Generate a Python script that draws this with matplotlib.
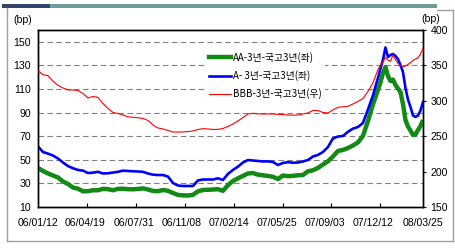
import matplotlib
matplotlib.use('Agg')
import matplotlib.pyplot as plt
import pandas as pd
from matplotlib.patches import Rectangle
from matplotlib.lines import Line2D

# ---------------- data ----------------
dates = pd.date_range('2006-01-12', '2007-12-22', periods=69).append(
    pd.date_range('2007-12-22', '2008-03-25', periods=19)[1:])

aa_spread = [43.1, 40.5, 38.4, 36.7, 35.0, 31.6, 29.5, 26.5, 25.5, 23.3,
             23.4, 24.2, 24.2, 25.4, 25.1, 24.2, 25.4, 25.5, 25.1, 25.0,
             25.3, 25.8, 24.8, 23.6, 23.4, 24.4, 23.7, 21.9, 20.2, 19.9,
             19.7, 20.3, 23.3, 24.4, 24.6, 24.8, 25.1, 23.7, 28.6, 32.0,
             34.3, 36.4, 38.4, 38.8, 37.4, 36.9, 36.3, 35.6, 33.7, 36.7,
             36.1, 36.4, 36.9, 37.1, 40.3, 41.1, 43.1, 46.0, 48.7, 52.8,
             57.5, 58.3, 60.0, 62.1, 64.7, 70.2, 82.9, 96.9, 109.2,
             115.5, 123.6, 128.6, 121.0, 116.8, 118.0, 113.4, 110.4, 107.5,
             97.3, 83.7, 78.2, 74.8, 71.0, 71.4, 75.3, 78.6, 83.7]

a_spread = [61.3, 56.6, 55.2, 53.6, 51.1, 47.7, 44.7, 42.8, 41.4, 40.8,
            38.8, 39.1, 39.8, 38.4, 38.6, 39.2, 39.8, 40.8, 40.5, 40.3,
            40.1, 39.8, 38.4, 37.4, 37.1, 37.1, 35.8, 30.3, 28.2, 27.8,
            27.8, 27.8, 32.5, 33.3, 33.3, 33.3, 34.3, 32.9, 38.0, 41.4,
            44.2, 47.7, 49.8, 49.4, 49.0, 48.6, 48.7, 48.1, 45.6, 47.3,
            48.0, 47.5, 47.7, 48.6, 49.8, 52.8, 54.1, 56.6, 60.8, 68.1,
            69.7, 70.2, 73.7, 76.4, 77.8, 81.2, 92.6, 104.5, 119.3,
            127.4, 134.6, 145.2, 137.1, 138.8, 139.7, 138.0, 135.4, 130.3,
            124.4, 110.8, 101.1, 94.7, 87.5, 86.3, 87.5, 91.8, 99.0]

bbb_spread = [342.5, 336.9, 335.5, 327.5, 321.9, 318.1, 315.3, 315.3, 314.5, 310.3,
              304.0, 306.1, 304.7, 296.2, 289.1, 283.5, 282.1, 279.9, 277.4, 276.7,
              276.1, 275.0, 272.2, 265.8, 261.6, 260.2, 258.1, 255.9, 255.9, 255.9,
              256.6, 257.3, 259.5, 260.6, 260.2, 259.5, 259.7, 260.9, 263.7, 267.2,
              271.5, 276.4, 281.4, 282.3, 281.6, 281.4, 281.4, 281.4, 280.9, 280.5,
              279.9, 279.7, 279.9, 281.4, 282.8, 286.3, 286.3, 283.5, 282.8, 287.0,
              290.8, 291.5, 292.2, 295.5, 299.0, 303.2, 313.1, 325.1, 344.2,
              349.9, 354.8, 361.2, 357.6, 355.8, 364.7, 358.3, 352.7, 349.9,
              348.4, 349.2, 351.3, 354.1, 356.9, 359.0, 360.5, 366.1, 373.9]

series_names = ['AA-3년-국고3년(좌)', 'A- 3년-국고3년(좌)', 'BBB-3년-국고3년(우)']
label_dates = ['2006-01-12', '2006-04-19', '2006-07-31', '2006-11-08', '2007-02-14',
               '2007-05-25', '2007-09-03', '2007-12-12', '2008-03-25']
tick_labels = ['06/01/12', '06/04/19', '06/07/31', '06/11/08', '07/02/14',
               '07/05/25', '07/09/03', '07/12/12', '08/03/25']
left_ticks = [10, 30, 50, 70, 90, 110, 130, 150]
right_ticks = [150, 200, 250, 300, 350, 400]

NUM = ['Liberation Sans', 'DejaVu Sans']
NSIZE = 7.6
KR = ['Noto Sans CJK KR', 'DejaVu Sans']

# ---------------- figure ----------------
W, H = 456, 249
fig = plt.figure(figsize=(W / 100, H / 100), dpi=100)
fig.patch.set_facecolor('white')

ax = fig.add_axes([38 / W, 42 / H, 385 / W, 177 / H])
ax2 = ax.twinx()

ax.plot(dates, aa_spread, color='#138a13', lw=3.2, solid_capstyle='butt', zorder=3)
ax.plot(dates, a_spread, color='#0000ff', lw=1.9, zorder=4)
ax2.plot(dates, bbb_spread, color='#ff0000', lw=0.8, zorder=3)

ax.set_xlim(pd.Timestamp('2006-01-12'), pd.Timestamp('2008-03-25'))
ax.set_ylim(10, 160)
ax2.set_ylim(150, 400)

ax.set_yticks(left_ticks)
ax.set_yticklabels([str(v) for v in left_ticks], family=NUM, fontsize=NSIZE)
ax2.set_yticks(right_ticks)
ax2.set_yticklabels([str(v) for v in right_ticks], family=NUM, fontsize=NSIZE)

ax.set_xticks(pd.to_datetime(label_dates))
ax.set_xticklabels(tick_labels, family=NUM, fontsize=NSIZE)
minor_pos = [pd.Timestamp('2006-01-12') + pd.Timedelta(days=102 * k) for k in range(1, 8)]
ax.set_xticks(minor_pos, minor=True)
ax.tick_params(axis='x', which='major', length=0, pad=8)
ax.tick_params(axis='x', which='minor', direction='in', length=3, width=0.8, color='black')
ax.tick_params(axis='y', length=0, pad=5)
ax2.tick_params(axis='y', length=2.5, width=0.8, pad=3, direction='out')

for g in [30, 50, 70, 90, 110, 130, 150]:
    ax.axhline(g, color='#808080', lw=0.8, ls=(0, (5, 3)), zorder=1)

for a in (ax, ax2):
    for s in a.spines.values():
        s.set_color('black')
        s.set_linewidth(1.0)

fig.text(13 / W, 1 - 20 / H, '(bp)', family=NUM, fontsize=NSIZE, ha='left', va='center')
fig.text(431 / W, 1 - 19 / H, '(bp)', family=NUM, fontsize=NSIZE, ha='center', va='center')

handles = [Line2D([], [], color='#138a13', lw=3.2),
           Line2D([], [], color='#0000ff', lw=1.9),
           Line2D([], [], color='#ff0000', lw=0.8)]
leg = ax2.legend(handles, series_names, loc='upper left',
                 bbox_to_anchor=(205 / W, 1 - 48 / H), bbox_transform=fig.transFigure,
                 prop={'family': KR, 'size': 7}, frameon=True, fancybox=False,
                 facecolor='white', edgecolor='none', framealpha=1,
                 borderpad=0.4, borderaxespad=0, handlelength=2.3,
                 handletextpad=0.15, labelspacing=0.75)
leg.set_zorder(10)

# decorative frame and header bar
fig.add_artist(Rectangle((2 / W, 1 - 8 / H), 48 / W, 4 / H, transform=fig.transFigure,
                         facecolor='#33446a', edgecolor='none'))
fig.add_artist(Rectangle((50 / W, 1 - 8 / H), 387 / W, 4 / H, transform=fig.transFigure,
                         facecolor='#6f9c9a', edgecolor='none'))
fc = '#a0a0a0'
fig.add_artist(Line2D([7 / W, 7 / W], [1 - 8 / H, 1 - 241 / H], color=fc, lw=1, transform=fig.transFigure))
fig.add_artist(Line2D([7 / W, 453 / W], [1 - 241 / H, 1 - 241 / H], color=fc, lw=1, transform=fig.transFigure))
fig.add_artist(Line2D([453 / W, 453 / W], [1 - 10 / H, 1 - 241 / H], color=fc, lw=1, transform=fig.transFigure))
fig.add_artist(Line2D([437 / W, 453 / W], [1 - 10 / H, 1 - 10 / H], color=fc, lw=1, transform=fig.transFigure))

fig.savefig('out.png', dpi=100, facecolor='white')
